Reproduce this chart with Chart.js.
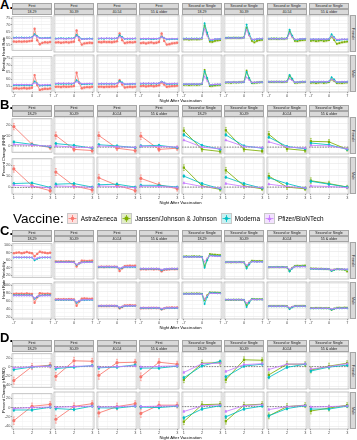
<!DOCTYPE html>
<html>
<head>
<meta charset="utf-8">
<script src="https://cdn.jsdelivr.net/npm/chart.js@4.4.1/dist/chart.umd.min.js"></script>
<style>
  body { margin: 0; background: #fff; font-family: "Liberation Sans", Arial, sans-serif; }
  #fig { position: relative; width: 357px; height: 440px; overflow: hidden; }
  #fig canvas { position: absolute; }
  .strip { position: absolute; box-sizing: border-box; background: #d9d9d9; border: 0.6px solid #a6a6a6;
           font-size: 3.6px; color: #1a1a1a; display: flex; align-items: center; justify-content: center; white-space: nowrap; }
  .vstrip { writing-mode: vertical-rl; }
  .letter { position: absolute; font-weight: bold; font-size: 13px; line-height: 1; color: #000; }
  .ytitle { position: absolute; width: 6px; writing-mode: vertical-rl; transform: rotate(180deg);
            display: flex; align-items: center; justify-content: center; font-size: 4px; color: #000; white-space: nowrap; }
  .xtitle { position: absolute; left: 12px; width: 337px; text-align: center; font-size: 4.2px; line-height: 1; color: #000; }
  #legend { position: absolute; left: 13px; top: 211px; height: 14px; display: flex; align-items: center; }
  #legend .ttl { font-size: 13.5px; margin-right: 3px; }
  #legend canvas { position: static; margin-right: 3px; }
  #legend .lab { font-size: 6.4px; margin-right: 4px; }
</style>
</head>
<body>
<div id="fig"></div>
<script>
// ---- data ----
const nightsLong = [-7, -6, -5, -4, -3, -2, -1, 0, 1, 2, 3, 4, 5, 6, 7];
const nightsShort = [1, 2, 3];
const vaccines = ["AstraZeneca", "Janssen/Johnson & Johnson", "Moderna", "Pfizer/BioNTech"];
const vaccineColors = ["#F8766D", "#7CAE00", "#00BFC4", "#C77CFF"];
const vaccineShapes = ["circle", "rect", "rectRot", "triangle"];
const doseLabels = ["First", "Second or Single"];
const ageGroups = ["18-29", "30-39", "40-54", "55 & older"];
const sexes = ["Female", "Male"];
const firstDoseVaccines = [0, 2, 3];
const secondDoseVaccines = [1, 2, 3];

// A. resting heart rate, rows = age groups, values = nights -7..7
const rhrFemFirstAZ = [
  [57.5,57.3,57.6,57.4,57.6,57.5,57.8,58.0,67.0,58.5,55.5,56.5,57.0,56.8,57.2],
  [57.5,57.6,57.3,57.5,57.7,57.4,57.8,58.0,65.5,59.0,56.0,56.8,57.0,57.2,57.1],
  [57.8,57.6,57.9,57.7,57.8,57.6,57.9,58.2,63.5,59.0,57.0,57.4,57.6,57.5,57.8],
  [57.0,57.3,56.8,57.2,57.5,57.0,57.3,57.8,63.5,58.5,56.0,56.3,56.8,57.0,57.2]];
const rhrFemFirstMod = [
  [60.3,60.5,60.4,60.5,60.3,60.4,60.5,60.7,63.0,61.5,60.2,60.0,60.2,60.1,60.3],
  [60.1,60.2,60.3,60.2,60.1,60.3,60.2,60.4,62.5,61.0,59.8,59.9,60.0,60.1,60.0],
  [60.0,60.1,60.0,60.2,60.1,60.0,60.1,60.3,62.3,61.1,59.9,60.0,59.9,60.0,60.1],
  [59.7,59.9,59.8,60.0,59.7,59.8,59.9,60.1,61.3,60.5,59.5,59.6,59.8,59.7,59.8]];
const rhrFemFirstPfz = [
  [60.1,60.2,60.3,60.2,60.1,60.3,60.2,60.4,62.0,61.0,60.0,59.9,60.1,60.0,60.1],
  [59.9,60.0,60.1,60.0,59.9,60.1,60.0,60.2,61.5,60.7,59.7,59.8,59.9,59.9,59.8],
  [60.2,60.3,60.2,60.3,60.2,60.3,60.2,60.4,61.3,60.7,60.0,60.1,60.2,60.1,60.2],
  [60.0,60.1,60.0,60.1,60.0,60.1,60.0,60.2,61.0,60.5,59.8,59.9,60.0,59.9,60.0]];
const rhrFemSecondJJ = [
  [59.5,59.6,59.4,59.5,59.6,59.5,59.6,60.0,69.0,63.0,58.0,57.8,58.5,58.8,59.0],
  [60.3,60.5,60.4,60.5,60.6,60.4,60.5,60.8,67.5,62.5,58.5,57.5,58.5,59.0,59.2],
  [59.8,59.9,60.0,59.8,59.9,60.0,59.9,60.2,65.0,61.5,58.5,58.3,58.8,59.0,59.2],
  [58.5,58.8,58.3,58.6,58.9,58.4,58.7,59.0,61.5,59.0,56.5,57.0,57.5,57.8,58.0]];
const rhrFemSecondMod = [
  [60.0,60.1,60.0,60.1,60.0,60.1,60.0,60.3,70.5,64.0,59.0,59.0,59.6,59.7,59.8],
  [60.5,60.6,60.5,60.6,60.5,60.6,60.5,60.8,69.5,63.5,59.5,59.3,59.8,60.0,60.0],
  [60.0,60.1,60.0,60.1,60.0,60.1,60.0,60.3,66.0,62.0,59.4,59.3,59.7,59.8,59.9],
  [59.5,59.6,59.5,59.6,59.5,59.6,59.5,59.8,63.0,61.0,59.0,59.1,59.4,59.5,59.4]];
const rhrFemSecondPfz = [
  [59.9,60.0,59.9,60.0,59.9,60.0,59.9,60.2,66.5,62.0,59.3,59.3,59.7,59.8,59.8],
  [60.4,60.5,60.4,60.5,60.4,60.5,60.4,60.7,66.0,62.0,59.6,59.5,59.9,60.0,60.1],
  [59.9,60.0,59.9,60.0,59.9,60.0,59.9,60.2,63.5,61.2,59.5,59.5,59.8,59.9,59.9],
  [59.6,59.7,59.6,59.7,59.6,59.7,59.6,59.9,61.5,60.5,59.3,59.4,59.6,59.6,59.6]];
const rhrMalFirstAZ = [
  [53.5,53.7,53.4,53.6,53.8,53.5,53.7,54.0,63.0,56.0,52.5,53.0,53.3,53.2,53.5],
  [54.5,54.6,54.4,54.7,54.5,54.6,54.8,55.0,64.0,57.0,53.5,54.0,54.3,54.2,54.5],
  [54.5,54.6,54.4,54.6,54.5,54.7,54.6,54.9,59.0,56.0,54.0,54.3,54.5,54.4,54.6],
  [55.0,55.2,54.8,55.1,55.3,54.9,55.2,55.5,57.5,56.0,54.5,54.8,55.0,55.1,55.3]];
const rhrMalFirstMod = [
  [55.8,55.9,55.8,55.9,55.8,55.9,55.8,56.0,58.5,57.0,55.5,55.6,55.7,55.7,55.8],
  [56.5,56.6,56.5,56.6,56.5,56.6,56.5,56.8,59.0,57.5,56.2,56.3,56.4,56.5,56.5],
  [56.5,56.6,56.5,56.6,56.5,56.6,56.5,56.8,58.5,57.5,56.2,56.3,56.4,56.5,56.5],
  [56.6,56.7,56.6,56.7,56.6,56.7,56.6,56.9,58.0,57.3,56.4,56.4,56.5,56.6,56.6]];
const rhrMalFirstPfz = [
  [56.2,56.3,56.2,56.3,56.2,56.3,56.2,56.4,57.5,56.8,56.0,56.0,56.1,56.2,56.2],
  [56.8,56.9,56.8,56.9,56.8,56.9,56.8,57.0,58.0,57.3,56.6,56.6,56.7,56.8,56.8],
  [56.6,56.7,56.6,56.7,56.6,56.7,56.6,56.8,57.5,57.0,56.4,56.4,56.5,56.6,56.6],
  [56.8,56.9,56.8,56.9,56.8,56.9,56.8,57.0,57.8,57.2,56.6,56.6,56.7,56.8,56.8]];
const rhrMalSecondJJ = [
  [55.8,56.0,55.7,55.9,56.0,55.8,56.0,56.3,66.0,60.0,55.0,55.2,55.5,55.7,55.8],
  [57.3,57.4,57.2,57.5,57.4,57.5,57.6,57.8,65.5,60.0,57.0,57.2,57.4,57.5,57.6],
  [57.7,57.8,57.7,57.9,57.8,57.7,57.8,58.0,62.0,59.5,57.2,57.3,57.5,57.6,57.7],
  [57.2,57.4,57.0,57.3,57.5,57.1,57.4,57.6,59.5,58.5,57.0,57.2,57.0,57.3,57.4]];
const rhrMalSecondMod = [
  [56.2,56.3,56.2,56.3,56.2,56.3,56.2,56.5,65.0,60.5,55.8,55.9,56.0,56.1,56.1],
  [57.5,57.6,57.5,57.6,57.5,57.6,57.5,57.8,64.5,60.5,57.3,57.4,57.5,57.6,57.6],
  [57.9,58.0,57.9,58.0,57.9,58.0,57.9,58.2,62.5,60.0,57.5,57.6,57.8,57.9,57.9],
  [57.8,57.9,57.8,57.9,57.8,57.9,57.8,58.1,61.0,59.5,57.6,57.7,57.8,57.8,57.9]];
const rhrMalSecondPfz = [
  [56.3,56.4,56.3,56.4,56.3,56.4,56.3,56.6,61.5,58.5,56.0,56.0,56.2,56.2,56.3],
  [57.6,57.7,57.6,57.7,57.6,57.7,57.6,57.9,61.0,59.0,57.5,57.5,57.6,57.7,57.7],
  [57.9,58.0,57.9,58.0,57.9,58.0,57.9,58.1,60.0,58.8,57.7,57.7,57.8,57.9,57.9],
  [57.9,58.0,57.9,58.0,57.9,58.0,57.9,58.1,59.5,58.7,57.8,57.8,57.9,57.9,57.9]];

// B. percent change in RHR, values = nights 1..3
const pctRhrFemFirstAZ = [[18.5, 1.5, -1.5], [10, -2, -3], [10, -1, -3], [9.5, -2, -1]];
const pctRhrFemFirstMod = [[3.8, 1.5, -1], [3, 1.5, -1], [2, 1, -0.5], [1, 1.5, -0.5]];
const pctRhrFemFirstPfz = [[1.5, 0.8, -0.3], [1, 0, -0.5], [1, 0.3, -0.3], [0.8, 0.5, 0]];
const pctRhrFemSecondJJ = [[14.2, -2, -3.8], [14.5, -2, -3.5], [11, -1.5, -3], [5, 4.5, -2]];
const pctRhrFemSecondMod = [[10.5, 1.5, -2], [10.5, 1, -1], [8.5, 0.5, -1.5], [3.5, 2, -2]];
const pctRhrFemSecondPfz = [[6, 0, -1.5], [6, 0.5, -0.5], [4.5, 0, -1], [1.5, 1, -1.5]];
const pctRhrMalFirstAZ = [[16.8, 1.5, -3], [13, 1, -2.5], [8, 1.5, -3], [7.5, 2, -1.5]];
const pctRhrMalFirstMod = [[3.5, 4, 0], [2.5, 3, 0], [2, 2.5, 0], [1.5, 1.5, 0]];
const pctRhrMalFirstPfz = [[2, 1, -0.5], [1, 0.5, -0.3], [1, 0.5, -0.5], [0.8, 0.5, -0.3]];
const pctRhrMalSecondJJ = [[16.8, 1, -2], [14.5, 1, -1.5], [9.5, 0, -1.5], [5.5, 3, 0]];
const pctRhrMalSecondMod = [[9.5, 3, -1.5], [8.5, 3, -1], [8, 3, -1], [5, 2.5, 0]];
const pctRhrMalSecondPfz = [[3.5, 0.5, -1], [3, 0.5, -0.5], [2.5, 0.5, -0.8], [1, 0.5, -0.5]];

// C. heart rate variability, nights -7..7
const hrvFemFirstAZ = [
  [79,80,81,79,80,82,80,79,71,77,83,81,80,79,80],
  [57,56.5,57,56.8,57.2,57,56.8,56.5,45,53,59,58.5,58,58.5,59],
  [44,44.5,44,44.3,44.6,44.2,44.5,44,34,41,46,46.5,47,46.5,47],
  [38.5,39,38.2,38.8,39.2,38.6,38.9,38.5,33.5,37,38,38.5,39,38.7,39]];
const hrvFemFirstMod = [
  [67.5,67.8,67.6,67.5,67.8,67.6,67.5,67.3,60,64,67,67.3,67.5,67.6,67.5],
  [55.5,55.6,55.5,55.6,55.5,55.6,55.5,55.2,49,52.5,55,55.3,55.5,55.6,55.5],
  [44,44.1,44,44.1,44,44.1,44,43.8,39.5,42,43.7,43.9,44,44.1,44],
  [39.5,39.6,39.5,39.6,39.5,39.6,39.5,39.3,36,38.2,39.2,39.4,39.5,39.6,39.5]];
const hrvFemFirstPfz = [
  [68,68.2,68.1,68,68.2,68.1,68,67.8,63,66,67.8,68,68.1,68,68],
  [55,55.2,55.1,55,55.2,55.1,55,54.8,50,53,54.6,54.9,55,55.1,55],
  [44.5,44.6,44.5,44.6,44.5,44.6,44.5,44.3,41,43,44.2,44.4,44.5,44.6,44.5],
  [39.8,39.9,39.8,39.9,39.8,39.9,39.8,39.6,37.5,38.8,39.5,39.7,39.8,39.9,39.8]];
const hrvFemSecondJJ = [
  [69,69.5,68.8,69.3,69.6,69,69.4,68.5,46,62,75,74,73.5,73,72.5],
  [55,55.3,55,55.4,55.2,55.5,55.3,55,44,53,59,58.5,58,58.5,58],
  [43,43.5,43.2,43.6,43.3,43.8,43.5,43,34,42,46,47,46.5,47,47.5],
  [40.5,40,40.3,39.5,39.8,39,39.3,38.5,35,37.5,39,38.5,38,37.5,33]];
const hrvFemSecondMod = [
  [68.5,68.7,68.6,68.5,68.7,68.6,68.5,68,42,60,72,71.5,71,70.5,70.5],
  [55.5,55.6,55.5,55.6,55.5,55.6,55.5,55,40,50,57,57,56.5,56.8,56.5],
  [43.5,43.6,43.5,43.6,43.5,43.6,43.5,43,33,40,45,45.3,45,45.5,45.3],
  [39.5,39.4,39.3,39.2,39.1,39,38.9,38.5,34.5,37,38.5,38.3,38.2,38,37.8]];
const hrvFemSecondPfz = [
  [68,68.2,68.1,68,68.2,68.1,68,67.5,56,65,71,70.5,70,69.8,69.5],
  [55.3,55.4,55.3,55.4,55.3,55.4,55.3,54.8,48,53,56.5,56.5,56.2,56.5,56.3],
  [43.3,43.4,43.3,43.4,43.3,43.4,43.3,42.9,38,41.5,44.5,44.8,44.6,45,44.8],
  [39.8,39.7,39.6,39.5,39.4,39.3,39.2,38.8,36.5,38,38.8,38.7,38.6,38.5,38.4]];
const hrvMalFirstAZ = [
  [78,79,78.5,79,78,79.5,78.5,78,56,70,80,79,78.5,79,78],
  [62,62.5,62.2,62.8,62.3,62.6,62.4,62,47,57,64,64.5,64,63.5,64],
  [46,46.3,46,46.4,46.2,46.5,46.3,46,41,44,47.5,47.8,48,47.6,47.8],
  [41,41.5,41.2,41.6,41.3,41.8,41.5,41.2,38.5,40.5,42,42.2,42.5,42.3,42.5]];
const hrvMalFirstMod = [
  [75,75.2,75.1,75,75.2,75.1,75,74.7,66,71,74.5,74.8,75,75.1,75],
  [61,61.2,61.1,61,61.2,61.1,61,60.7,54,58,60.5,60.8,61,61.1,61],
  [46.5,46.6,46.5,46.6,46.5,46.6,46.5,46.3,42,44.5,46.2,46.4,46.5,46.6,46.5],
  [41.5,41.6,41.5,41.6,41.5,41.6,41.5,41.3,38.5,40.5,41.3,41.4,41.5,41.6,41.5]];
const hrvMalFirstPfz = [
  [74,74.2,74.1,74,74.2,74.1,74,73.8,68,72,73.5,73.8,74,74.1,74],
  [61.5,61.7,61.6,61.5,61.7,61.6,61.5,61.2,56,59,61,61.3,61.5,61.6,61.5],
  [46.8,46.9,46.8,46.9,46.8,46.9,46.8,46.6,43.5,45.3,46.5,46.7,46.8,46.9,46.8],
  [42,42.1,42,42.1,42,42.1,42,41.8,40,41.2,41.8,41.9,42,42.1,42]];
const hrvMalSecondJJ = [
  [76,76.3,76,76.4,76.2,76.5,76.3,75.5,60,72,79,78.5,78.8,78.3,78],
  [61,61.3,61,61.4,61.2,61.5,61.3,60.5,48,57,63,62.8,62.5,62.7,62.5],
  [46,46.2,46,46.3,46.1,46.4,46.2,45.8,40,44,46.5,46.5,46.3,46.6,46.4],
  [41.5,41,41.8,41.2,41.6,41,41.4,41,37,40,42,42.3,42,42.5,42.2]];
const hrvMalSecondMod = [
  [75.5,75.6,75.5,75.6,75.5,75.6,75.5,75,51,68,78,77.5,77.5,77,77],
  [61.5,61.6,61.5,61.6,61.5,61.6,61.5,61,44,54,62.5,62.3,62,62.2,62],
  [45.5,45.6,45.5,45.6,45.5,45.6,45.5,45.2,39,43,45.5,45.6,45.5,45.6,45.5],
  [40.5,40.6,40.5,40.6,40.5,40.6,40.5,40.2,37.5,39.5,40.8,41,40.9,41.1,41]];
const hrvMalSecondPfz = [
  [75.3,75.4,75.3,75.4,75.3,75.4,75.3,74.8,63,71,77,76.8,76.7,76.5,76.3],
  [61.3,61.4,61.3,61.4,61.3,61.4,61.3,60.8,53,58,62,61.8,61.7,61.9,61.7],
  [45.8,45.9,45.8,45.9,45.8,45.9,45.8,45.5,42,44.5,45.8,45.9,45.8,45.9,45.8],
  [40.8,40.9,40.8,40.9,40.8,40.9,40.8,40.5,39,40,41,41.1,41,41.2,41.1]];

// D. percent change in rMSSD, nights 1..3
const pctHrvFemFirstAZ = [[-31, 1, 4], [-20, 12, 11], [-18, 8, 9], [-21, 9, 5]];
const pctHrvFemFirstMod = [[-6, 0, 2.5], [-4, -1, 2], [-2.5, -1, 3.5], [-3, -3, 1]];
const pctHrvFemFirstPfz = [[-2, 0.5, 1.5], [-2, 0.5, 1.5], [-1.5, 0, 1.5], [-1, 0.5, 1.5]];
const pctHrvFemSecondJJ = [[-27, 7, 8], [-27, 14, 13], [-17, 5, 5], [-7, 1, 7]];
const pctHrvFemSecondMod = [[-23, 1.5, 11], [-21, 1, 5], [-22, -1.5, 5], [-9, -1, 3]];
const pctHrvFemSecondPfz = [[-12, 6, 7], [-10, 4, 6], [-6, 5, 5.5], [-5, 0, 6]];
const pctHrvMalFirstAZ = [[-28, 3, 7], [-26, 0.5, 6], [-13, 0, 6], [-14, 3, 3]];
const pctHrvMalFirstMod = [[-5, -5, 1], [-4, -6, 1], [-2.5, -3, 1], [-1, -2, 1]];
const pctHrvMalFirstPfz = [[-2, 0.5, 1.5], [-1.5, 0, 1], [-1, 0, 1.5], [0, 1, 1.5]];
const pctHrvMalSecondJJ = [[-31, 4, 5], [-30, 3, 5], [-19, 0, 3], [-9, -3, 3]];
const pctHrvMalSecondMod = [[-23, -5, 2], [-21, -5, 1], [-19, -4, 2], [-5, -5, 1]];
const pctHrvMalSecondPfz = [[-10, 1.5, 3.5], [-10, 2, 4], [-6, 0, 2.5], [-1, 0, 1.5]];

// uncertainty (ribbon half-widths per vaccine, error bar half-widths per vaccine per night)
const rhrBand = [1.3, 1.1, 0.35, 0.35];
const hrvBand = [3.5, 3, 1, 1];
const pctRhrErr = [[3, 2, 2], [2.5, 2, 1.5], [1, 0.8, 0.6], [0.7, 0.5, 0.4]];
const pctHrvErr = [[8, 7, 6], [6, 6, 5], [3, 2.5, 2], [2, 2, 1.5]];

// axis ticks
const longNightTicks = [-7, 0, 7];
const shortNightTicks = [1, 2, 3];
const rhrTicks = [55, 60, 65, 70, 75];
const pctRhrTicks = [0, 10, 20];
const hrvTicks = [20, 40, 60, 80, 100];
const pctHrvTicks = [-40, -20, 0, 20];

// ---- panels ----
const panels = [
  { letter: "A.", letterTop: -2, top: 3, yTitle: "Resting Heart Rate", nights: nightsLong, xMin: -7.7, xMax: 7.7,
    xMajor: longNightTicks, xMinor: [-3.5, 3.5], yMin: 51, yMax: 76, yMajor: rhrTicks, yMinor: [52.5, 57.5, 62.5, 67.5, 72.5],
    band: rhrBand, err: null, zero: false, pointR: 1.2, lineW: 0.7,
    series: { Female: [[rhrFemFirstAZ, rhrFemFirstMod, rhrFemFirstPfz], [rhrFemSecondJJ, rhrFemSecondMod, rhrFemSecondPfz]],
              Male: [[rhrMalFirstAZ, rhrMalFirstMod, rhrMalFirstPfz], [rhrMalSecondJJ, rhrMalSecondMod, rhrMalSecondPfz]] } },
  { letter: "B.", letterTop: 98, top: 105, yTitle: "Percent Change (RHR)", nights: nightsShort, xMin: 0.9, xMax: 3.1,
    xMajor: shortNightTicks, xMinor: [1.5, 2.5], yMin: -6, yMax: 26, yMajor: pctRhrTicks, yMinor: [-5, 5, 15, 25],
    band: null, err: pctRhrErr, zero: true, pointR: 1.6, lineW: 0.85,
    series: { Female: [[pctRhrFemFirstAZ, pctRhrFemFirstMod, pctRhrFemFirstPfz], [pctRhrFemSecondJJ, pctRhrFemSecondMod, pctRhrFemSecondPfz]],
              Male: [[pctRhrMalFirstAZ, pctRhrMalFirstMod, pctRhrMalFirstPfz], [pctRhrMalSecondJJ, pctRhrMalSecondMod, pctRhrMalSecondPfz]] } },
  { letter: "C.", letterTop: 224, top: 230, yTitle: "Heart Rate Variability", nights: nightsLong, xMin: -7.7, xMax: 7.7,
    xMajor: longNightTicks, xMinor: [-3.5, 3.5], yMin: 15, yMax: 104, yMajor: hrvTicks, yMinor: [30, 50, 70, 90],
    band: hrvBand, err: null, zero: false, pointR: 1.2, lineW: 0.7,
    series: { Female: [[hrvFemFirstAZ, hrvFemFirstMod, hrvFemFirstPfz], [hrvFemSecondJJ, hrvFemSecondMod, hrvFemSecondPfz]],
              Male: [[hrvMalFirstAZ, hrvMalFirstMod, hrvMalFirstPfz], [hrvMalSecondJJ, hrvMalSecondMod, hrvMalSecondPfz]] } },
  { letter: "D.", letterTop: 331, top: 340, yTitle: "Percent Change (rMSSD)", nights: nightsShort, xMin: 0.9, xMax: 3.1,
    xMajor: shortNightTicks, xMinor: [1.5, 2.5], yMin: -46, yMax: 30, yMajor: pctHrvTicks, yMinor: [-30, -10, 10],
    band: null, err: pctHrvErr, zero: true, pointR: 1.6, lineW: 0.85,
    series: { Female: [[pctHrvFemFirstAZ, pctHrvFemFirstMod, pctHrvFemFirstPfz], [pctHrvFemSecondJJ, pctHrvFemSecondMod, pctHrvFemSecondPfz]],
              Male: [[pctHrvMalFirstAZ, pctHrvMalFirstMod, pctHrvMalFirstPfz], [pctHrvMalSecondJJ, pctHrvMalSecondMod, pctHrvMalSecondPfz]] } }
];

// ---- layout ----
const facetW = 40, rowH = 37, stripH = 6;
const colX = c => Math.round(12 + c * 42.43);
const fig = document.getElementById("fig");
Chart.defaults.font.family = "'Liberation Sans', Arial, sans-serif";

function alpha(hex, a) {
  const n = parseInt(hex.slice(1), 16);
  return `rgba(${n >> 16},${(n >> 8) & 255},${n & 255},${a})`;
}

function div(cls, css, text) {
  const d = document.createElement("div");
  d.className = cls;
  Object.assign(d.style, css);
  if (text !== undefined) d.textContent = text;
  fig.appendChild(d);
  return d;
}

// ribbons, zero line, error bars and panel border
const facetDeco = {
  id: "facetDeco",
  beforeDatasetsDraw(chart, args, opts) {
    const { ctx, chartArea: a, scales: { x, y } } = chart;
    ctx.save();
    ctx.beginPath();
    ctx.rect(a.left, a.top, a.width, a.height);
    ctx.clip();
    chart.data.datasets.forEach(ds => {
      if (!ds.band) return;
      ctx.beginPath();
      ds.data.forEach((p, i) => {
        const px = x.getPixelForValue(p.x), py = y.getPixelForValue(p.y + ds.band);
        i ? ctx.lineTo(px, py) : ctx.moveTo(px, py);
      });
      for (let i = ds.data.length - 1; i >= 0; i--) {
        const p = ds.data[i];
        ctx.lineTo(x.getPixelForValue(p.x), y.getPixelForValue(p.y - ds.band));
      }
      ctx.closePath();
      ctx.fillStyle = alpha(ds.borderColor, 0.22);
      ctx.fill();
    });
    if (opts.zero) {
      const y0 = y.getPixelForValue(0);
      ctx.strokeStyle = "#333";
      ctx.lineWidth = 0.6;
      ctx.setLineDash([1.5, 1.2]);
      ctx.beginPath();
      ctx.moveTo(a.left, y0);
      ctx.lineTo(a.right, y0);
      ctx.stroke();
      ctx.setLineDash([]);
    }
    chart.data.datasets.forEach(ds => {
      if (!ds.err) return;
      ctx.strokeStyle = ds.borderColor;
      ctx.lineWidth = 0.5;
      ds.data.forEach((p, i) => {
        const px = x.getPixelForValue(p.x);
        const t = y.getPixelForValue(p.y + ds.err[i]), b = y.getPixelForValue(p.y - ds.err[i]);
        ctx.beginPath();
        ctx.moveTo(px, t); ctx.lineTo(px, b);
        ctx.moveTo(px - 1, t); ctx.lineTo(px + 1, t);
        ctx.moveTo(px - 1, b); ctx.lineTo(px + 1, b);
        ctx.stroke();
      });
    });
    ctx.restore();
  },
  afterDraw(chart) {
    const { ctx, chartArea: a } = chart;
    ctx.save();
    ctx.strokeStyle = "#9e9e9e";
    ctx.lineWidth = 0.6;
    ctx.strokeRect(a.left, a.top, a.width, a.height);
    ctx.restore();
  }
};

function addFacet(p, r, c) {
  const isLeft = c === 0, isBottom = r === 1;
  const axisW = isLeft ? 9 : 0, axisH = isBottom ? 6 : 0;
  const rowTop = p.top + 2 * stripH + r * (rowH + 3);
  const cv = document.createElement("canvas");
  const w = facetW + 4 + axisW, h = rowH + 2 + axisH;
  cv.width = w; cv.height = h;
  Object.assign(cv.style, { left: (colX(c) - 2 - axisW) + "px", top: (rowTop - 1) + "px", width: w + "px", height: h + "px" });
  fig.appendChild(cv);

  const dose = c < 4 ? 0 : 1, age = c % 4;
  const vacs = dose === 0 ? firstDoseVaccines : secondDoseVaccines;
  const arrays = p.series[sexes[r]][dose];
  const datasets = vacs.map((v, k) => ({
    data: p.nights.map((n, i) => ({ x: n, y: arrays[k][age][i] })),
    order: vacs.length - k, // later vaccines drawn on top, as in the figure
    borderColor: vaccineColors[v],
    backgroundColor: vaccineColors[v],
    borderWidth: p.lineW,
    pointRadius: p.pointR,
    pointBorderWidth: 0,
    pointStyle: vaccineShapes[v],
    band: p.band ? p.band[v] : 0,
    err: p.err ? p.err[v] : null
  }));

  const tickStyle = { size: 3.8 };
  new Chart(cv, {
    type: "line",
    data: { datasets },
    plugins: [facetDeco],
    options: {
      responsive: false,
      animation: false,
      events: [],
      layout: { padding: { left: 2, right: 2, top: 1, bottom: 1 }, autoPadding: false },
      plugins: { legend: { display: false }, tooltip: { enabled: false }, facetDeco: { zero: p.zero } },
      scales: {
        x: {
          type: "linear", min: p.xMin, max: p.xMax,
          afterBuildTicks: s => { s.ticks = [...p.xMajor, ...p.xMinor].sort((a, b) => a - b).map(v => ({ value: v })); },
          afterFit: s => { s.height = axisH; },
          ticks: { display: isBottom, autoSkip: false, maxRotation: 0, padding: 0.3, color: "#4d4d4d", font: tickStyle,
                   callback: v => p.xMajor.includes(v) ? String(v) : "" },
          grid: { color: ctx => p.xMajor.includes(ctx.tick.value) ? "#e6e6e6" : "#f3f3f3", lineWidth: 0.6,
                  drawTicks: isBottom, tickLength: 1.2,
                  tickColor: ctx => p.xMajor.includes(ctx.tick.value) ? "#555" : "rgba(0,0,0,0)" },
          border: { display: false }
        },
        y: {
          type: "linear", min: p.yMin, max: p.yMax,
          afterBuildTicks: s => { s.ticks = [...p.yMajor, ...p.yMinor].sort((a, b) => a - b).map(v => ({ value: v })); },
          afterFit: s => { s.width = axisW; },
          ticks: { display: isLeft, autoSkip: false, padding: 0.5, color: "#4d4d4d", font: tickStyle,
                   callback: v => p.yMajor.includes(v) ? String(v) : "" },
          grid: { color: ctx => p.yMajor.includes(ctx.tick.value) ? "#e6e6e6" : "#f3f3f3", lineWidth: 0.6,
                  drawTicks: isLeft, tickLength: 1.2,
                  tickColor: ctx => p.yMajor.includes(ctx.tick.value) ? "#555" : "rgba(0,0,0,0)" },
          border: { display: false }
        }
      }
    }
  });
}

panels.forEach(p => {
  div("letter", { left: "0px", top: p.letterTop + "px" }, p.letter);
  for (let c = 0; c < 8; c++) {
    div("strip", { left: colX(c) + "px", top: p.top + "px", width: facetW + "px", height: stripH + "px" }, doseLabels[c < 4 ? 0 : 1]);
    div("strip", { left: colX(c) + "px", top: (p.top + stripH) + "px", width: facetW + "px", height: stripH + "px" }, ageGroups[c % 4]);
  }
  for (let r = 0; r < 2; r++) {
    const rowTop = p.top + 2 * stripH + r * (rowH + 3);
    div("strip vstrip", { left: (colX(7) + facetW + 1) + "px", top: rowTop + "px", width: "6px", height: rowH + "px" }, sexes[r]);
    for (let c = 0; c < 8; c++) addFacet(p, r, c);
  }
  const rowsTop = p.top + 2 * stripH;
  div("ytitle", { left: "0px", top: rowsTop + "px", height: (2 * rowH + 3) + "px" }, p.yTitle);
  div("xtitle", { top: (rowsTop + 2 * rowH + 3 + 7) + "px" }, "Night After Vaccination");
});

// ---- legend ----
const legend = document.createElement("div");
legend.id = "legend";
fig.appendChild(legend);
const ttl = document.createElement("span");
ttl.className = "ttl";
ttl.textContent = "Vaccine:";
legend.appendChild(ttl);
vaccines.forEach((name, i) => {
  const key = document.createElement("canvas");
  key.width = 11; key.height = 11;
  legend.appendChild(key);
  const g = key.getContext("2d"), s = 11, m = s / 2, col = vaccineColors[i];
  g.fillStyle = alpha(col, 0.22);
  g.fillRect(0, 0, s, s);
  g.strokeStyle = "#c8c8c8"; g.lineWidth = 1;
  g.strokeRect(0.5, 0.5, s - 1, s - 1);
  g.strokeStyle = col; g.lineWidth = 0.8;
  g.beginPath();
  g.moveTo(1.5, m); g.lineTo(s - 1.5, m);
  g.moveTo(m, 2); g.lineTo(m, s - 2);
  g.stroke();
  g.fillStyle = col;
  g.beginPath();
  const rr = 1.8;
  if (vaccineShapes[i] === "circle") g.arc(m, m, rr, 0, Math.PI * 2);
  else if (vaccineShapes[i] === "rect") g.rect(m - rr, m - rr, 2 * rr, 2 * rr);
  else if (vaccineShapes[i] === "rectRot") { g.moveTo(m, m - rr * 1.3); g.lineTo(m + rr * 1.3, m); g.lineTo(m, m + rr * 1.3); g.lineTo(m - rr * 1.3, m); }
  else { g.moveTo(m, m - rr * 1.2); g.lineTo(m + rr * 1.1, m + rr * 0.9); g.lineTo(m - rr * 1.1, m + rr * 0.9); }
  g.closePath();
  g.fill();
  const lab = document.createElement("span");
  lab.className = "lab";
  lab.textContent = name;
  legend.appendChild(lab);
});
</script>
</body>
</html>
